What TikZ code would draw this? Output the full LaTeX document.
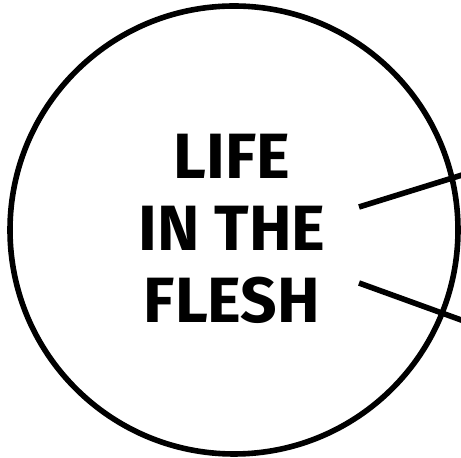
\documentclass[tikz,border=0pt]{standalone}
\usepackage{fontspec}
\setsansfont{Fira Sans}
\usetikzlibrary{positioning}
\tikzset{
    ring/.style={
        draw,
        line width=2.8pt
    },
    titletext/.style={
        font=\sffamily\bfseries\fontsize{32}{36}\selectfont,
        align=center,
        inner sep=0pt
    },
    pointer/.style={
        line width=2.8pt
    }
}

\begin{document}
\begin{tikzpicture}[x=0.5pt,y=-0.5pt]
    \useasboundingbox (0,0) rectangle (461,458);
    % Circle
    \node[ring, circle, minimum size=224pt, inner sep=0pt] (disc) at (234,230) {};

    % Title
    \node[titletext] (title) at (232,229) {LIFE\\IN THE\\FLESH};

    % Pointer lines
    \coordinate (upstart) at (359,207);
    \coordinate (upend) at (475,171);
    \coordinate (lowstart) at (359,283);
    \coordinate (lowend) at (475,325);
    \draw[pointer] (upstart) -- (upend);
    \draw[pointer] (lowstart) -- (lowend);
\end{tikzpicture}
\end{document}
